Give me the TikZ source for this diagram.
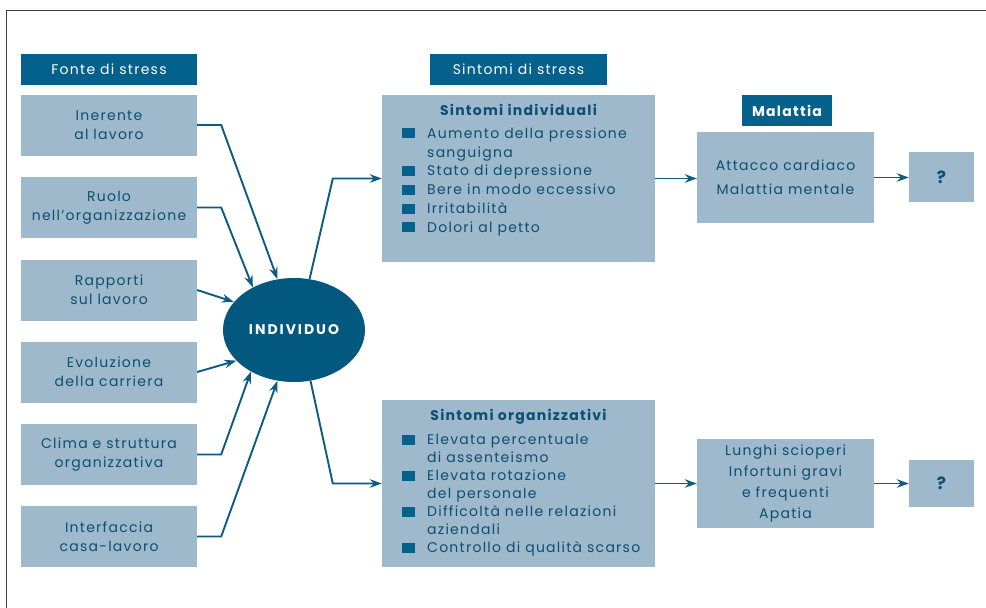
\documentclass[tikz,border=0pt]{standalone}
\usepackage{fontspec}
\setmainfont{Poppins}[LetterSpace=9]
\usetikzlibrary{shapes.geometric,arrows.meta,calc}
\definecolor{hdr}{HTML}{03618B}
\definecolor{boxc}{HTML}{9EB9CB}
\definecolor{txt}{HTML}{0D4E74}
\definecolor{ellc}{HTML}{02587E}
\definecolor{arrc}{HTML}{0B5B82}
\definecolor{frame}{HTML}{404040}
\newcommand{\bulsq}{\textcolor{hdr}{\rule{13pt}{10pt}}}
\begin{document}
\begin{tikzpicture}[x=1pt,y=-1pt,
  header/.style={fill=hdr,text=white,inner sep=0pt,font=\fontsize{14}{16}\selectfont},
  srcbox/.style={fill=boxc,text=txt,inner sep=0pt,minimum width=176pt,minimum height=61pt,align=center,font=\fontsize{14}{19}\selectfont},
  bigbox/.style={fill=boxc,inner sep=0pt,minimum width=273pt,minimum height=167pt},
  midbox/.style={fill=boxc,text=txt,inner sep=0pt,minimum width=177pt,align=center},
  qbox/.style={fill=boxc,text=txt,inner sep=0pt,minimum width=65pt,font=\fontsize{17}{17}\selectfont\bfseries},
  ttl/.style={text=txt,inner sep=0pt,font=\fontsize{14}{16}\selectfont\bfseries},
  lst/.style={text=txt,inner sep=0pt,anchor=north west,align=left},
  arr/.style={draw=arrc,line width=1.9pt,-{Stealth[length=12pt,width=8.5pt]}}
]
\useasboundingbox (0,0) rectangle (986,608);
\draw[frame,line width=1.3pt] (6.5,608) -- (6.5,10.5) -- (986,10.5);
% headers
\node[header,minimum width=176pt,minimum height=31pt] (h1) at (109,69.5) {Fonte di stress};
\node[header,minimum width=177pt,minimum height=31pt] (h2) at (518.5,69.5) {Sintomi di stress};
\node[header,minimum width=90pt,minimum height=31pt] (h3) at (787,110.5) {\bfseries Malattia};
% source boxes
\node[srcbox] (l1) at (109,125) {Inerente\\al lavoro};
\node[srcbox] (l2) at (109,207.5) {Ruolo\\nell'organizzazione};
\node[srcbox] (l3) at (109,290) {Rapporti\\sul lavoro};
\node[srcbox] (l4) at (109,372) {Evoluzione\\della carriera};
\node[srcbox] (l5) at (109,454.5) {Clima e struttura\\organizzativa};
\node[srcbox] (l6) at (109,536.5) {Interfaccia\\casa-lavoro};
% individual
\node[ellipse,fill=ellc,text=white,minimum width=142pt,minimum height=104pt,inner sep=0pt,font=\fontsize{14}{16}\selectfont\bfseries\addfontfeatures{LetterSpace=14}] (ind) at (294,330) {INDIVIDUO};
% symptom boxes
\node[bigbox] (si) at (518.5,178.5) {};
\node[ttl] (sit) at (518.5,110) {Sintomi individuali};
\node[lst] (sil) at (402,125) {\fontsize{14}{18.8}\selectfont
\begin{tabular}{@{}l@{\hspace{12pt}}l@{}}
\bulsq & Aumento della pressione\\
 & sanguigna\\
\bulsq & Stato di depressione\\
\bulsq & Bere in modo eccessivo\\
\bulsq & Irritabilità\\
\bulsq & Dolori al petto
\end{tabular}};
\node[bigbox] (so) at (518.5,483.5) {};
\node[ttl] (sot) at (518.5,417) {Sintomi organizzativi};
\node[lst] (sol) at (402,432) {\fontsize{14}{18}\selectfont
\begin{tabular}{@{}l@{\hspace{12pt}}l@{}}
\bulsq & Elevata percentuale\\
 & di assenteismo\\
\bulsq & Elevata rotazione\\
 & del personale\\
\bulsq & Difficoltà nelle relazioni\\
 & aziendali\\
\bulsq & Controllo di qualità scarso
\end{tabular}};
% disease boxes
\node[midbox,minimum height=91pt,font=\fontsize{14}{24}\selectfont] (ma) at (785.5,177.5) {Attacco cardiaco\\Malattia mentale};
\node[midbox,minimum height=89pt,font=\fontsize{14}{21}\selectfont] (lu) at (785.5,483.5) {Lunghi scioperi\\Infortuni gravi\\e frequenti\\Apatia};
\node[qbox,minimum height=50pt] (q1) at (941.5,177) {?};
\node[qbox,minimum height=47pt] (q2) at (941.5,483.5) {?};
% connectors into INDIVIDUO
\draw[arr] (l1.east) -- ++(24,0) -- (ind.108);
\draw[arr] (l2.east) -- ++(24,0) -- (ind.134);
\draw[arr] (l3.east) -- (ind.155);
\draw[arr] (l4.east) -- (ind.208);
\draw[arr] (l5.east) -- ++(24,0) -- (ind.224);
\draw[arr] (l6.east) -- ++(24,0) -- (ind.252);
% out of INDIVIDUO
\draw[arr] (ind.73) -- ($(si.west)+(-49,0)$) -- (si.west);
\draw[arr] (ind.288) -- ($(so.west)+(-49,0)$) -- (so.west);
% to diseases
\draw[arr] (si.east) -- (si.east -| ma.west);
\draw[arr] (ma.east) -- (ma.east -| q1.west);
\draw[arr] (so.east) -- (so.east -| lu.west);
\draw[arr] (lu.east) -- (lu.east -| q2.west);
\end{tikzpicture}
\end{document}
